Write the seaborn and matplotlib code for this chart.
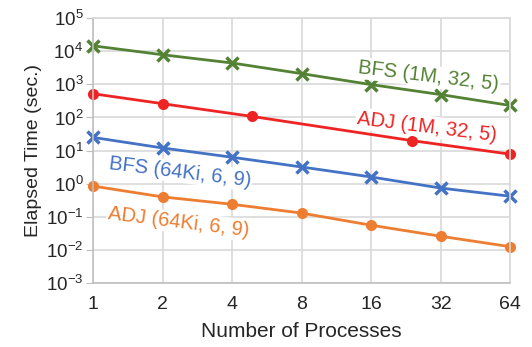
import matplotlib
matplotlib.use("Agg")
import matplotlib.pyplot as plt
import matplotlib.ticker as mticker
import seaborn as sns

procs = [1, 2, 4, 8, 16, 32, 64]

bfs_1m = [14500, 7800, 4400, 2100, 980, 490, 230]
adj_1m_x = [1, 2, 4.9, 24, 64]
adj_1m = [520, 260, 107, 20, 7.8]
bfs_64ki = [25, 12, 6.3, 3.2, 1.6, 0.74, 0.42]
adj_64ki = [0.85, 0.40, 0.24, 0.13, 0.056, 0.026, 0.0126]

labels = ["BFS (1M, 32, 5)", "ADJ (1M, 32, 5)", "BFS (64Ki, 6, 9)", "ADJ (64Ki, 6, 9)"]

sns.set_style("whitegrid")
plt.rcParams["font.family"] = ["Liberation Sans", "DejaVu Sans"]
plt.rcParams["mathtext.default"] = "regular"

fig = plt.figure(figsize=(5.32, 3.47), dpi=100)
ax = fig.add_axes([0.175, 0.184, 0.784, 0.764])

green, red, blue, orange = "#548235", "#EE2424", "#4472C4", "#ED7D31"

# crosses for BFS, dots for ADJ
sns.lineplot(x=procs, y=bfs_1m, ax=ax, color=green, lw=2, marker="x", ms=9, mew=2.5, mec=green, clip_on=False)
sns.lineplot(x=adj_1m_x, y=adj_1m, ax=ax, color=red, lw=2, marker="o", ms=8, mec=red, mew=0, clip_on=False)
sns.lineplot(x=procs, y=bfs_64ki, ax=ax, color=blue, lw=2, marker="x", ms=9, mew=2.5, mec=blue, clip_on=False)
sns.lineplot(x=procs, y=adj_64ki, ax=ax, color=orange, lw=2, marker="o", ms=8, mec=orange, mew=0, clip_on=False)

ax.set_xscale("log", base=2)
ax.set_yscale("log")
ax.set_xlim(1, 64)
ax.set_ylim(1e-3, 1e5)
ax.set_xticks(procs)
ax.xaxis.set_major_formatter(mticker.FixedFormatter([str(p) for p in procs]))
ax.xaxis.set_minor_locator(mticker.NullLocator())
ax.yaxis.set_major_locator(mticker.LogLocator(base=10, numticks=20))
ax.yaxis.set_minor_locator(mticker.NullLocator())

ax.grid(True, color="#D9D9D9", lw=1.2)
for s in ax.spines.values():
    s.set_color("#D9D9D9")
    s.set_linewidth(1.2)
ax.spines["left"].set_color("#BFBFBF")
ax.spines["bottom"].set_color("#BFBFBF")
ax.tick_params(axis="y", left=True, length=5, color="#BFBFBF", labelsize=13.5, pad=2)
ax.tick_params(axis="x", bottom=False, labelsize=14, pad=6)

ax.set_xlabel("Number of Processes", fontsize=15, labelpad=6)
ax.set_ylabel("Elapsed Time (sec.)", fontsize=14, labelpad=3)

box = dict(facecolor="white", edgecolor="none", pad=1)
ax.text(0.805, 0.78, labels[0], transform=ax.transAxes, color=green, fontsize=14.5,
        rotation=-7, ha="center", va="center", bbox=box)
ax.text(0.8, 0.59, labels[1], transform=ax.transAxes, color=red, fontsize=14.5,
        rotation=-7, ha="center", va="center", bbox=box)
ax.text(0.208, 0.42, labels[2], transform=ax.transAxes, color=blue, fontsize=14.5,
        rotation=-7, ha="center", va="center", bbox=box)
ax.text(0.205, 0.23, labels[3], transform=ax.transAxes, color=orange, fontsize=14.5,
        rotation=-7, ha="center", va="center", bbox=box)

fig.savefig("out.png", dpi=100)
